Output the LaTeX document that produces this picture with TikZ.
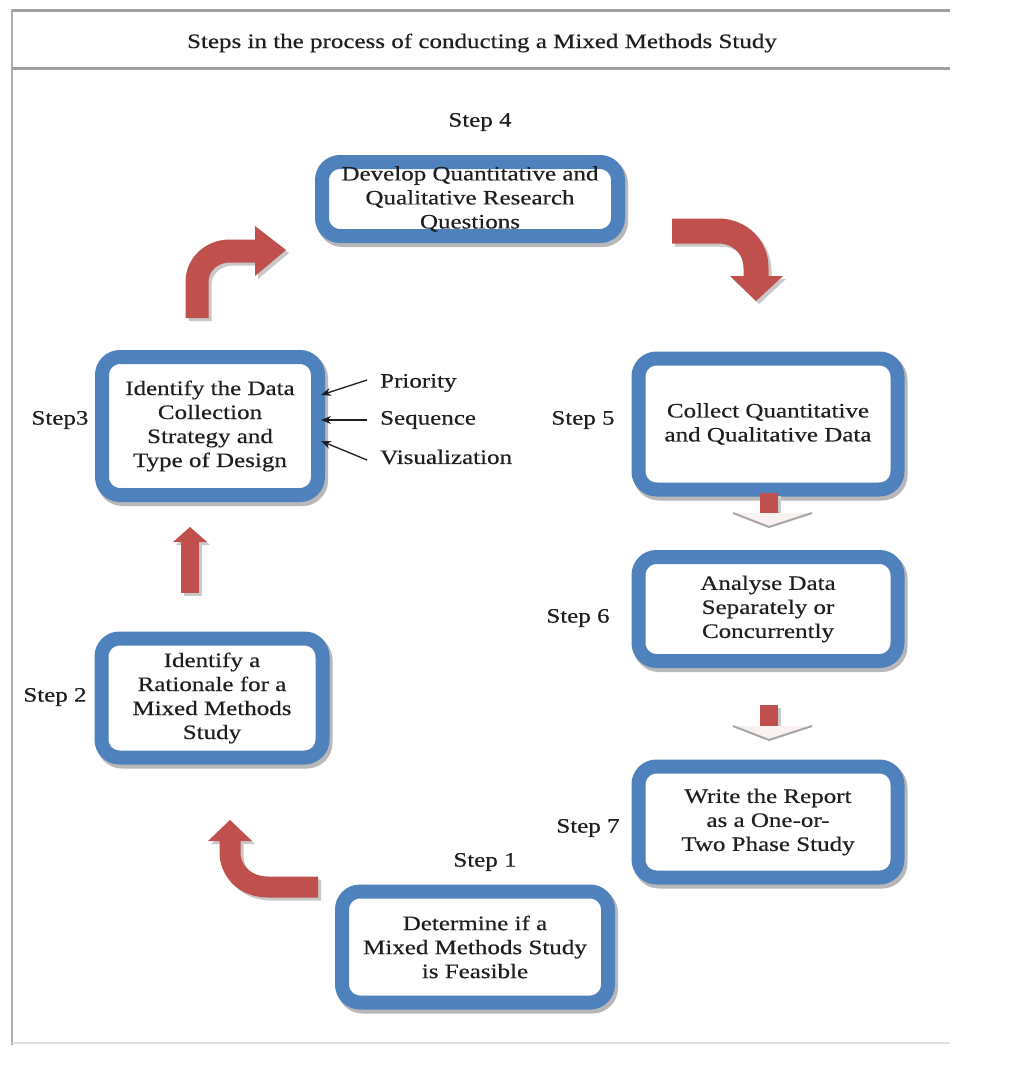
\documentclass[tikz,border=0pt]{standalone}
\usepackage{fontspec}
\setmainfont{Liberation Serif}[FakeStretch=1.22, FakeBold=0.4]
\usetikzlibrary{arrows.meta}
\definecolor{boxblue}{HTML}{4F81BD}
\definecolor{arrred}{HTML}{C0504D}
\definecolor{txt}{HTML}{1E1E1E}
\definecolor{shade}{HTML}{C8C8C8}
\tikzset{
  stepbox/.style={draw=boxblue, line width=14pt, rounded corners=18pt, fill=white,
    align=center, text=txt, font=\fontsize{20.5}{24}\selectfont, inner sep=0pt,
    preaction={draw=black!28, line width=15pt, transform canvas={xshift=2.5pt,yshift=-3.5pt}}},
  steplabel/.style={text=txt, font=\fontsize{20.5}{24}\selectfont, inner sep=0pt},
  sidelabel/.style={text=txt, font=\fontsize{20.5}{24}\selectfont, inner sep=0pt, anchor=west},
  pointer/.style={-{Stealth[length=10pt,width=8pt]}, line width=1.3pt, draw=txt},
  frameline/.style={draw=gray!75, line width=3pt},
}
\newcommand\arrowsA[2]{%
  % step 3 -> step 4
  \draw[#1, line width=23pt] (c3a) -- (197,282) .. controls (197,264) and (212,251) .. (230,251) -- (256,251);
  \fill[#2] (255,226) -- (286,250) -- (255,276) -- cycle;
  % step 4 -> step 5
  \draw[#1, line width=25pt] (c4a) -- (718,231) .. controls (740,231) and (756,247) .. (756,268) -- (756,277);
  \fill[#2] (730,276) -- (783,276) -- (756,301) -- cycle;
  % step 2 -> step 3
  \fill[#2] (181,593) rectangle (199,540);
  \fill[#2] (173,542) -- (207,542) -- (190,527) -- cycle;
  % step 1 -> step 2
  \draw[#1, line width=21pt] (c1a) -- (268,887) .. controls (246,887) and (230,872) .. (230,852) -- (230,840);
  \fill[#2] (208,841) -- (252,841) -- (230,820) -- cycle;
  % step 5 -> 6 and 6 -> 7 shafts
  \fill[#2] (760,493) rectangle (778,515);
  \fill[#2] (760,705) rectangle (778,727);
}
\begin{document}
\begin{tikzpicture}[x=1pt,y=-1pt]
\useasboundingbox (0,0) rectangle (1025,1072);
\fill[white] (0,0) rectangle (1025,1072);

% frame
\draw[frameline] (12,10) -- (950,10);
\draw[frameline] (12,68) -- (950,68);
\draw[draw=gray!65, line width=2pt] (12,9) -- (12,1045);
\draw[draw=gray!25, line width=2pt] (12,1043) -- (950,1043);

\node[steplabel] (title) at (482,43) {Steps in the process of conducting a Mixed Methods Study};

% boxes
\node[stepbox, minimum width=296pt, minimum height=74pt] (s4) at (470,199)
  {Develop Quantitative and\\Qualitative Research\\Questions};
\node[stepbox, minimum width=216pt, minimum height=138pt] (s3) at (210,426)
  {Identify the Data\\Collection\\Strategy and\\Type of Design};
\node[stepbox, minimum width=221pt, minimum height=119pt] (s2) at (212,698)
  {Identify a\\Rationale for a\\Mixed Methods\\Study};
\node[stepbox, minimum width=266pt, minimum height=111pt] (s1) at (475,947)
  {Determine if a\\Mixed Methods Study\\is Feasible};
\node[stepbox, minimum width=259pt, minimum height=131pt] (s5) at (768,424)
  {Collect Quantitative\\and Qualitative Data};
\node[stepbox, minimum width=259pt, minimum height=104pt] (s6) at (768,609)
  {Analyse Data\\Separately or\\Concurrently};
\node[stepbox, minimum width=259pt, minimum height=111pt] (s7) at (768,822)
  {Write the Report\\as a One-or-\\Two Phase Study};

% step labels
\node[steplabel] (l4) at (480,122) {Step 4};
\node[steplabel] (l3) at (60,420) {Step3};
\node[steplabel] (l2) at (55,697) {Step 2};
\node[steplabel] (l1) at (485,862) {Step 1};
\node[steplabel] (l5) at (583,420) {Step 5};
\node[steplabel] (l6) at (578,618) {Step 6};
\node[steplabel] (l7) at (588,828) {Step 7};

% side labels
\node[sidelabel] (prio) at (380,383) {Priority};
\node[sidelabel] (seq) at (380,420) {Sequence};
\node[sidelabel] (vis) at (380,457) {Visualization};
\coordinate (h1) at (321,395);
\coordinate (h2) at (321,420);
\coordinate (h3) at (321,441);
\draw[pointer] ([xshift=-13pt,yshift=3pt]prio.west) -- (h1);
\draw[pointer] ([xshift=-13pt]seq.west) -- (h2);
\draw[pointer] ([xshift=-13pt,yshift=-3pt]vis.west) -- (h3);

% block arrows
\coordinate (c3a) at (197,318);
\coordinate (c4a) at (672,231);
\coordinate (c1a) at (318,887);
\begin{scope}[transform canvas={xshift=3pt,yshift=-3pt}]
  \arrowsA{draw=shade}{fill=shade}
\end{scope}
\arrowsA{draw=arrred}{fill=arrred}

% pale heads of the small down arrows
\fill[arrred!8] (733,513) -- (812,513) -- (769,527) -- cycle;
\draw[gray!70, line width=2pt] (733,513) -- (769,527) -- (812,513);
\fill[arrred!8] (733,726) -- (812,726) -- (769,740) -- cycle;
\draw[gray!70, line width=2pt] (733,726) -- (769,740) -- (812,726);
\end{tikzpicture}
\end{document}
